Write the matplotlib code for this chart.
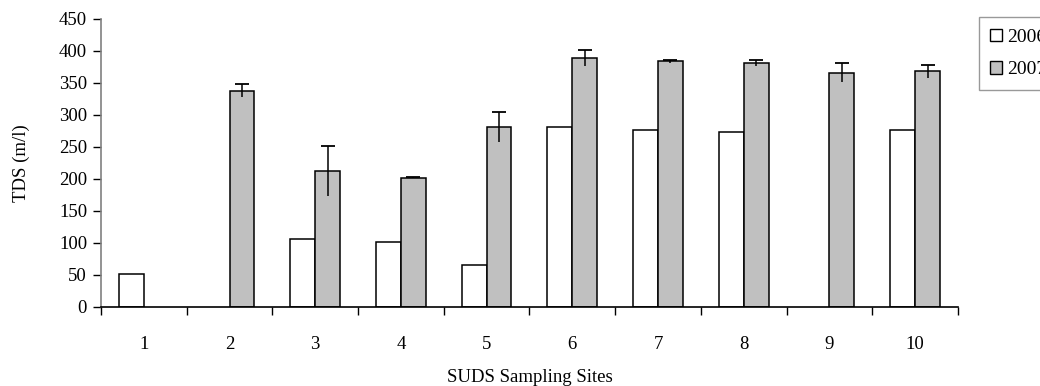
import matplotlib

matplotlib.use("Agg")

import matplotlib.pyplot as plt
import numpy as np
from matplotlib.patches import Patch

sites = ["1", "2", "3", "4", "5", "6", "7", "8", "9", "10"]
tds_2006 = [52, np.nan, 107, 102, 66, 281, 276, 273, np.nan, 276]
tds_2007 = [np.nan, 338, 212, 202, 281, 389, 384, 381, 366, 368]
err_2007 = [np.nan, 10, 39, 1, 23, 12, 2, 5, 15, 10]

plt.rcParams.update(
    {
        "font.family": ["Liberation Serif", "DejaVu Serif"],
        "font.size": 13.5,
    }
)

fig = plt.figure(figsize=(10.4, 3.86), dpi=100)
ax = fig.add_axes([0.0971, 0.2047, 0.8240, 0.7461])

x = np.arange(1, len(sites) + 1)
ancho = 0.29

ax.bar(x - ancho / 2, tds_2006, ancho, color="white", edgecolor="black", linewidth=1.1, zorder=2)
ax.bar(x + ancho / 2, tds_2007, ancho, color="#c0c0c0", edgecolor="black", linewidth=1.1, zorder=2)

v7 = np.asarray(tds_2007, dtype=float)
e7 = np.asarray(err_2007, dtype=float)
ax.errorbar(x + ancho / 2, v7, yerr=e7, fmt="none", ecolor="black", elinewidth=1.1, capsize=0, zorder=3)
ax.plot(x + ancho / 2, v7 + e7, linestyle="none", marker="_", markersize=9.5,
        markeredgewidth=1.3, color="black", zorder=3)

ax.set_xlim(0.5, len(sites) + 0.5)
ax.set_ylim(0, 450)
ax.set_yticks(np.arange(0, 451, 50))
ax.set_xticks(x)
ax.set_xticklabels(sites)
ax.set_xticks(np.arange(0.5, len(sites) + 1, 1), minor=True)
ax.tick_params(axis="x", which="major", length=0, pad=21)
ax.tick_params(axis="x", which="minor", length=6, width=1, direction="out")
ax.tick_params(axis="y", length=6, width=1, direction="out", pad=4)

ax.spines["top"].set_visible(False)
ax.spines["right"].set_visible(False)
ax.spines["left"].set_color("#808080")
ax.spines["left"].set_linewidth(1.2)
ax.spines["bottom"].set_linewidth(1.2)

ax.set_ylabel("TDS (m/l)", labelpad=21)
ax.set_xlabel("SUDS Sampling Sites", labelpad=11.5)

handles = [
    Patch(facecolor="white", edgecolor="black", linewidth=1.0, label="2006"),
    Patch(facecolor="#c0c0c0", edgecolor="black", linewidth=1.0, label="2007"),
]
leg = fig.legend(
    handles=handles,
    loc="upper left",
    bbox_to_anchor=(0.941, 0.956),
    frameon=True,
    fancybox=False,
    edgecolor="#808080",
    handlelength=0.6,
    handleheight=0.6,
    handletextpad=0.25,
    borderpad=0.6,
    labelspacing=0.8,
    borderaxespad=0,
    fontsize=14,
)
leg.get_frame().set_linewidth(1.0)

fig.savefig("out.png", dpi=100)
plt.close(fig)
